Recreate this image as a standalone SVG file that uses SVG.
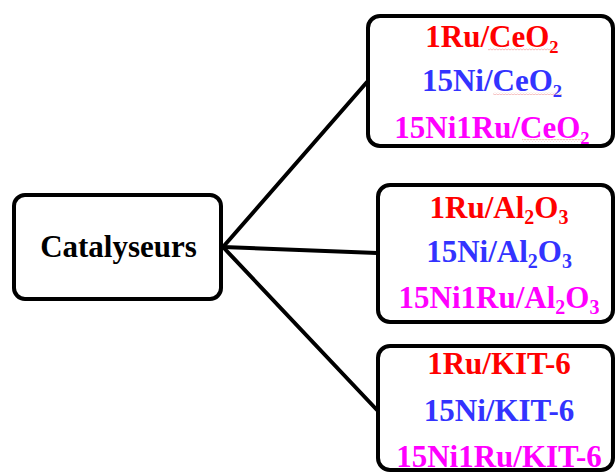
<svg xmlns="http://www.w3.org/2000/svg" width="616" height="474" viewBox="0 0 616 474">
<style>
.box{fill:#fff;stroke:#000;stroke-width:4}
.conn{stroke:#000;stroke-width:4;fill:none;stroke-linecap:round}
.t{font-family:"Liberation Serif","DejaVu Serif",serif;font-weight:bold;font-size:31px;text-anchor:middle}
.red{fill:#ff0000}.blue{fill:#3333ff}.mag{fill:#ff00ff}.blk{fill:#000}
.sub{font-size:20px}
.sq{fill:url(#wavy)}
</style>
<defs>
<pattern id="wavy" width="3" height="3" patternUnits="userSpaceOnUse">
<path d="M0 2 L1.5 1 L3 2" stroke="#ec8a8a" stroke-width="0.6" fill="none"/>
</pattern>
</defs>
<g id="connectors">
<line class="conn" x1="223" y1="247" x2="367" y2="82"/>
<line class="conn" x1="223" y1="247" x2="377" y2="253"/>
<line class="conn" x1="223" y1="247" x2="377" y2="410"/>
</g>
<g id="catalyseurs">
<rect class="box" x="14" y="195" width="207" height="104" rx="11"/>
<text class="t blk" x="118.5" y="257">Catalyseurs</text>
</g>
<g id="ceo2">
<rect class="box" x="368" y="16" width="245" height="130" rx="12"/>
<text class="t red" x="492" y="47">1Ru/CeO₂</text>
<text class="t blue" x="492" y="91">15Ni/CeO₂</text>
<text class="t mag" x="492" y="138">15Ni1Ru/CeO₂</text>
<rect class="sq" x="488" y="48" width="69" height="3"/>
<rect class="sq" x="493" y="92" width="69" height="3"/>
<rect class="sq" x="522" y="139" width="63" height="3"/>
</g>
<g id="al2o3">
<rect class="box" x="378" y="185" width="235" height="137" rx="12"/>
<text class="t red" x="499" y="218">1Ru/Al<tspan class="sub" dy="6">2</tspan><tspan dy="-6">O</tspan><tspan class="sub" dy="6">3</tspan></text>
<text class="t blue" x="499" y="262">15Ni/Al<tspan class="sub" dy="6">2</tspan><tspan dy="-6">O</tspan><tspan class="sub" dy="6">3</tspan></text>
<text class="t mag" x="499" y="308">15Ni1Ru/Al<tspan class="sub" dy="6">2</tspan><tspan dy="-6">O</tspan><tspan class="sub" dy="6">3</tspan></text>
</g>
<g id="kit6">
<rect class="box" x="378" y="346" width="235" height="124" rx="12"/>
<text class="t red" x="499" y="374">1Ru/KIT-6</text>
<text class="t blue" x="499" y="421">15Ni/KIT-6</text>
<text class="t mag" x="499" y="467">15Ni1Ru/KIT-6</text>
</g>
</svg>
